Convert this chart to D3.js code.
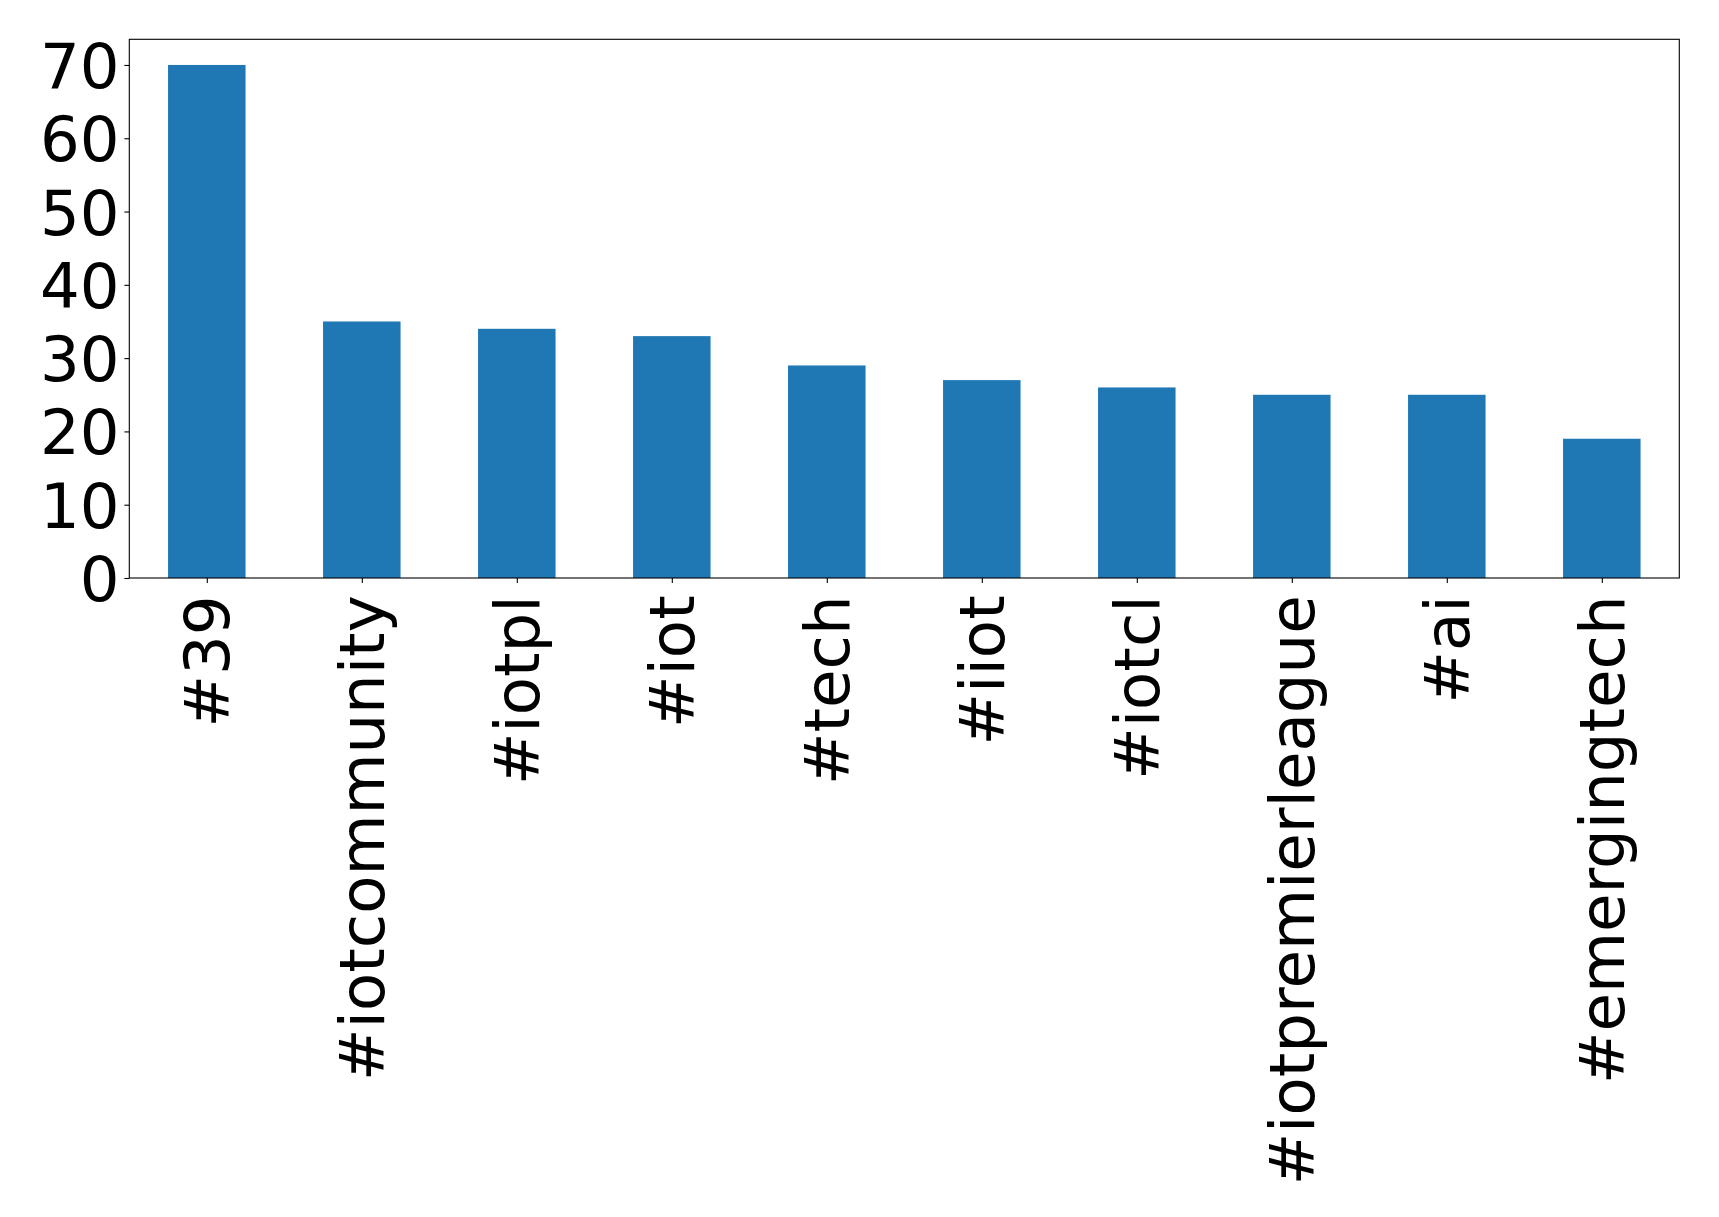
<!DOCTYPE html>
<html>
<head>
<meta charset="utf-8">
<script src="https://cdn.jsdelivr.net/npm/d3@7"></script>
<style>
  html, body { margin: 0; padding: 0; background: #fff; }
  svg { display: block; }
  text { font-family: "DejaVu Sans", sans-serif; fill: #000; }
</style>
</head>
<body>
<script>
const categories = ["#39", "#iotcommunity", "#iotpl", "#iot", "#tech", "#iiot", "#iotcl", "#iotpremierleague", "#ai", "#emergingtech"];
const values = [70, 35, 34, 33, 29, 27, 26, 25, 25, 19];
const yTicks = [0, 10, 20, 30, 40, 50, 60, 70];

const W = 1719, H = 1217;
const mLeft = 129.3, mRight = 1679.3, mTop = 39.3, mBottom = 578;
const tickLen = 4.9, pad = 4.9;

const svg = d3.select("body").append("svg").attr("width", W).attr("height", H);

const x = d3.scaleLinear().domain([-0.5, categories.length - 0.5]).range([mLeft, mRight]);
const y = d3.scaleLinear().domain([0, d3.max(values) * 1.05]).range([mBottom, mTop]);
const barW = 0.5;

svg.append("g").selectAll("rect").data(values).join("rect")
  .attr("x", (d, i) => x(i - barW / 2))
  .attr("width", (d, i) => x(i + barW / 2) - x(i - barW / 2))
  .attr("y", d => y(d))
  .attr("height", d => y(0) - y(d))
  .attr("fill", "#1f77b4");

// y axis
const yAxis = d3.axisLeft(y).tickValues(yTicks).tickSize(tickLen).tickPadding(pad).tickFormat(d3.format("d"));
const gy = svg.append("g").attr("transform", `translate(${mLeft},0)`).call(yAxis);
gy.select(".domain").remove();
gy.selectAll("line").attr("stroke", "#000").attr("stroke-width", 1.1);
gy.selectAll("text").attr("font-size", 62.5).attr("font-family", "DejaVu Sans").attr("dy", "0.36em");

// x axis
const xAxis = d3.axisBottom(x).tickValues(d3.range(categories.length)).tickSize(tickLen).tickPadding(pad).tickFormat(i => categories[i]);
const gx = svg.append("g").attr("transform", `translate(0,${mBottom})`).call(xAxis);
gx.select(".domain").remove();
gx.selectAll("line").attr("stroke", "#000").attr("stroke-width", 1.1);
gx.selectAll("text")
  .attr("font-size", 62.6)
  .attr("font-family", "DejaVu Sans")
  .attr("text-anchor", "end")
  .attr("y", 0).attr("dy", "0.35em")
  .attr("transform", `translate(0,${tickLen + pad + 7.5}) rotate(-90)`);

// frame
svg.append("rect")
  .attr("x", mLeft).attr("y", mTop)
  .attr("width", mRight - mLeft).attr("height", mBottom - mTop)
  .attr("fill", "none").attr("stroke", "#000").attr("stroke-width", 1.1);
</script>
</body>
</html>
